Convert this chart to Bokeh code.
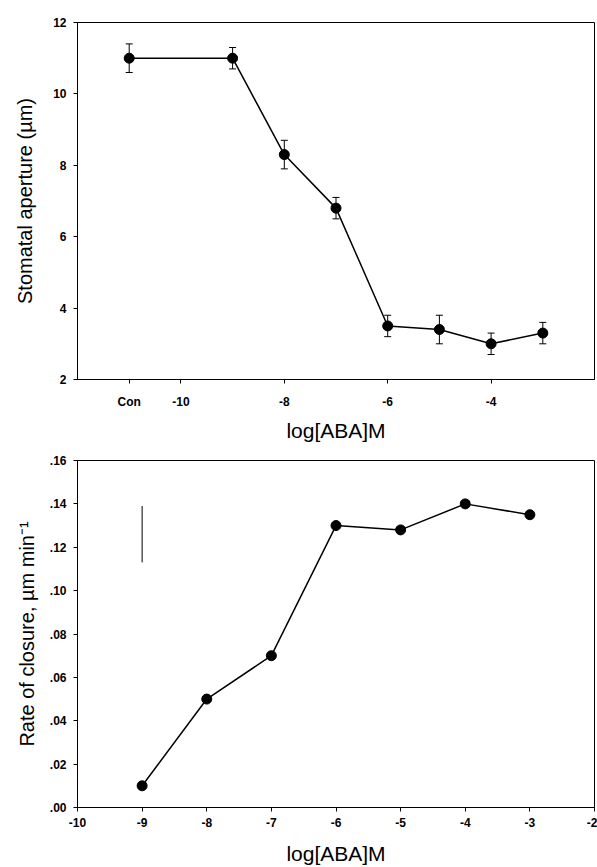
from bokeh.plotting import figure
from bokeh.layouts import column
from bokeh.models import FixedTicker, Whisker, ColumnDataSource, TeeHead, Range1d
from bokeh.embed import file_html
from bokeh.resources import INLINE

# ---- data: top panel (stomatal aperture) ----
top_x = [-11, -9, -8, -7, -6, -5, -4, -3]
top_y = [11.0, 11.0, 8.3, 6.8, 3.5, 3.4, 3.0, 3.3]
top_err = [0.4, 0.3, 0.4, 0.3, 0.3, 0.4, 0.3, 0.3]
top_xticks = [-11, -10, -8, -6, -4]
top_xtick_labels = ["Con", "-10", "-8", "-6", "-4"]
top_yticks = [2, 4, 6, 8, 10, 12]

# ---- data: bottom panel (rate of closure) ----
bot_x = [-9, -8, -7, -6, -5, -4, -3]
bot_y = [0.010, 0.050, 0.070, 0.130, 0.128, 0.140, 0.135]
bot_xticks = [-10, -9, -8, -7, -6, -5, -4, -3, -2]
bot_xtick_labels = ["-10", "-9", "-8", "-7", "-6", "-5", "-4", "-3", "-2"]
bot_yticks = [0.00, 0.02, 0.04, 0.06, 0.08, 0.10, 0.12, 0.14, 0.16]
bot_ytick_labels = [".00", ".02", ".04", ".06", ".08", ".10", ".12", ".14", ".16"]
bot_mark_x = [-9]
bot_mark_y0 = [0.113]
bot_mark_y1 = [0.139]

FONT = "Liberation Sans"


def style(p):
    p.toolbar_location = None
    p.grid.visible = False
    p.outline_line_color = "black"
    p.outline_line_width = 1
    p.background_fill_color = "white"
    p.border_fill_color = "white"
    for ax in (p.xaxis[0], p.yaxis[0]):
        ax.axis_line_color = "black"
        ax.axis_line_width = 1
        ax.major_tick_in = 0
        ax.major_tick_out = 4
        ax.major_tick_line_color = "black"
        ax.minor_tick_line_color = None
        ax.major_label_text_font = FONT
        ax.major_label_text_font_size = "12px"
        ax.major_label_text_font_style = "bold"
        ax.major_label_text_color = "black"
        ax.axis_label_text_font = FONT
        ax.axis_label_text_font_style = "normal"
        ax.axis_label_text_color = "black"


# ---------------- top figure ----------------
p1 = figure(width=597, height=448, output_backend="svg", toolbar_location=None,
            x_range=Range1d(-12, -2), y_range=Range1d(2, 12),
            min_border_left=77, min_border_right=0, min_border_top=22, min_border_bottom=69)
style(p1)
p1.xaxis.ticker = FixedTicker(ticks=top_xticks)
p1.xaxis.major_label_overrides = {t: l for t, l in zip(top_xticks, top_xtick_labels)}
p1.yaxis.ticker = FixedTicker(ticks=top_yticks)
p1.xaxis.axis_label = "log[ABA]M"
p1.yaxis.axis_label = "Stomatal aperture (µm)"
p1.xaxis.axis_label_text_font_size = "21px"
p1.yaxis.axis_label_text_font_size = "20px"
p1.xaxis.major_label_standoff = 11
p1.yaxis.major_label_standoff = 7
p1.xaxis.axis_label_standoff = 7
p1.yaxis.axis_label_standoff = 14

src1 = ColumnDataSource(dict(x=top_x, y=top_y,
                             lo=[v - e for v, e in zip(top_y, top_err)],
                             hi=[v + e for v, e in zip(top_y, top_err)]))
p1.add_layout(Whisker(source=src1, base="x", lower="lo", upper="hi", dimension="height",
                      line_color="black", line_width=1,
                      upper_head=TeeHead(size=7, line_color="black", line_width=1),
                      lower_head=TeeHead(size=7, line_color="black", line_width=1)))
p1.line("x", "y", source=src1, line_color="black", line_width=1.5)
p1.scatter("x", "y", source=src1, size=10, fill_color="black", line_color="black")

# ---------------- bottom figure ----------------
p2 = figure(width=597, height=419, output_backend="svg", toolbar_location=None,
            x_range=Range1d(-10, -2), y_range=Range1d(0, 0.16),
            min_border_left=77, min_border_right=3, min_border_top=12, min_border_bottom=57)
style(p2)
p2.xaxis.ticker = FixedTicker(ticks=bot_xticks)
p2.xaxis.major_label_overrides = {t: l for t, l in zip(bot_xticks, bot_xtick_labels)}
p2.yaxis.ticker = FixedTicker(ticks=bot_yticks)
p2.yaxis.major_label_overrides = {t: l for t, l in zip(bot_yticks, bot_ytick_labels)}
p2.xaxis.axis_label = "log[ABA]M"
p2.yaxis.axis_label = "Rate of closure, µm min⁻¹"
p2.xaxis.axis_label_text_font_size = "21px"
p2.yaxis.axis_label_text_font_size = "20px"
p2.xaxis.major_label_standoff = 6
p2.yaxis.major_label_standoff = 7
p2.xaxis.axis_label_standoff = 12
p2.yaxis.axis_label_standoff = 9

p2.segment(x0=bot_mark_x, y0=bot_mark_y0, x1=bot_mark_x, y1=bot_mark_y1,
           line_color="black", line_width=1)
src2 = ColumnDataSource(dict(x=bot_x, y=bot_y))
p2.line("x", "y", source=src2, line_color="black", line_width=1.5)
p2.scatter("x", "y", source=src2, size=10, fill_color="black", line_color="black")

layout = column(p1, p2, spacing=0)
open("out.html", "w").write(file_html(layout, INLINE))
